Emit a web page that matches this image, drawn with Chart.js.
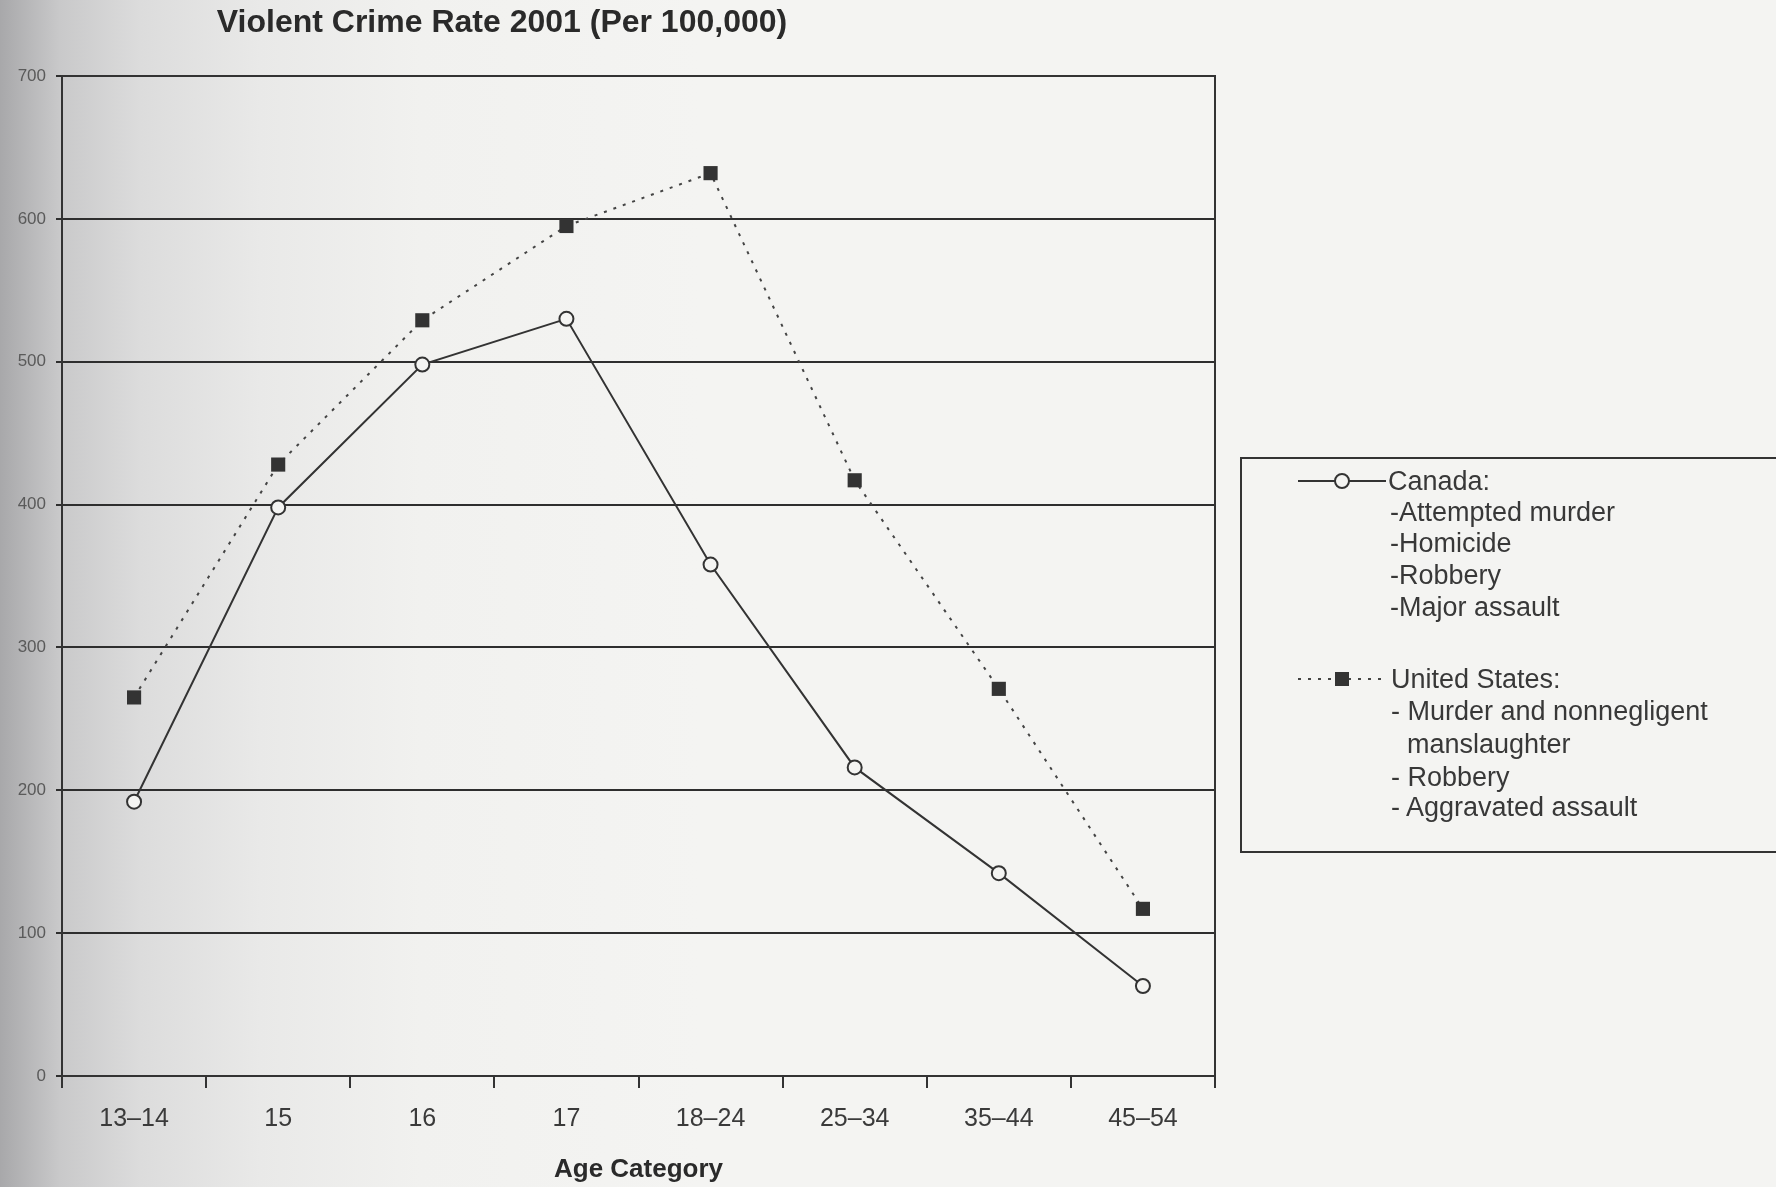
<!DOCTYPE html>
<html>
<head>
<meta charset="utf-8">
<script src="https://cdn.jsdelivr.net/npm/chart.js@4.4.1/dist/chart.umd.min.js"></script>
<style>
  html, body { margin: 0; padding: 0; }
  body {
    width: 1776px; height: 1187px; overflow: hidden; position: relative;
    background: linear-gradient(to right, #a8a8aa 0px, #c9c9ca 60px, #dcdcdc 140px, #e9e9e8 260px, #f1f1ef 420px, #f4f4f2 700px);
    font-family: "Liberation Sans", Arial, sans-serif;
  }
  #wrap { position: absolute; left: 0; top: 0; width: 1776px; height: 1187px; }
  #titre {
    position: absolute; left: 0; width: 1004px; top: 3px; text-align: center;
    font-family: "Liberation Sans", sans-serif;
    font-weight: bold; font-size: 32px; color: #2a2a2a;
  }
  #legende {
    position: absolute; left: 1240px; top: 457px; width: 600px; height: 396px;
    border: 2px solid #333; box-sizing: border-box;
    font-size: 27px; color: #383838; line-height: 32px;
  }
  .l { position: absolute; white-space: nowrap; }
  svg { position: absolute; }
</style>
</head>
<body>
<div id="wrap"><canvas id="grafico" width="1776" height="1187"></canvas></div>
<div id="titre">Violent Crime Rate 2001 (Per 100,000)</div>
<div id="legende">
  <svg style="left:56px;top:10px" width="90" height="24">
    <line x1="0" y1="12" x2="88" y2="12" stroke="#333" stroke-width="2"/>
    <circle cx="44" cy="12" r="7" fill="#f4f4f2" stroke="#333" stroke-width="2"/>
  </svg>
  <div class="l" style="left:146px;top:6px">Canada:</div>
  <div class="l" style="left:148px;top:37px">-Attempted murder</div>
  <div class="l" style="left:148px;top:68px">-Homicide</div>
  <div class="l" style="left:148px;top:100px">-Robbery</div>
  <div class="l" style="left:148px;top:132px">-Major assault</div>
  <svg style="left:56px;top:208px" width="90" height="24">
    <line x1="0" y1="12" x2="88" y2="12" stroke="#444" stroke-width="2" stroke-dasharray="3 7"/>
    <rect x="37" y="5" width="14" height="14" fill="#333"/>
  </svg>
  <div class="l" style="left:149px;top:204px">United States:</div>
  <div class="l" style="left:149px;top:236px">- Murder and nonnegligent</div>
  <div class="l" style="left:165px;top:269px">manslaughter</div>
  <div class="l" style="left:149px;top:302px">- Robbery</div>
  <div class="l" style="left:149px;top:332px">- Aggravated assault</div>
</div>
<script>
// tranches d'age et taux (pour 100 000)
const categories = ['13–14', '15', '16', '17', '18–24', '25–34', '35–44', '45–54']
const canada = [192, 398, 498, 530, 358, 216, 142, 63]
const etatsUnis = [265, 428, 529, 595, 632, 417, 271, 117]
const yTicks = [0, 100, 200, 300, 400, 500, 600, 700]

const police = '"Liberation Sans", Arial, sans-serif'

// cadre autour de la zone du graphique
const cadre = {
    id: 'cadre',
    afterDraw(chart) {
        const { ctx, chartArea: a } = chart
        ctx.save()
        ctx.strokeStyle = '#333'
        ctx.lineWidth = 2
        ctx.strokeRect(a.left, a.top, a.right - a.left, a.bottom - a.top)
        ctx.restore()
    }
}

const ctx = document.querySelector('#grafico')
const chart = new Chart(ctx, {
    type: 'line',
    data: {
        labels: categories,
        datasets: [
            {
                label: 'Canada',
                data: canada,
                borderColor: '#333',
                borderWidth: 2,
                pointStyle: 'circle',
                pointRadius: 7,
                pointBorderWidth: 2,
                pointBackgroundColor: '#f4f4f2',
                pointBorderColor: '#333',
                tension: 0
            },
            {
                label: 'United States',
                data: etatsUnis,
                borderColor: '#444',
                borderWidth: 2,
                borderDash: [3, 7],
                pointStyle: 'rect',
                pointRadius: 10,
                pointBorderWidth: 0,
                pointBackgroundColor: '#333',
                pointBorderColor: '#333',
                tension: 0
            }
        ]
    },
    options: {
        responsive: false,
        animation: false,
        devicePixelRatio: 1,
        layout: { padding: { top: 76, right: 561, left: 0, bottom: 0 } },
        plugins: {
            legend: { display: false },
            title: { display: false },
            tooltip: { enabled: false }
        },
        scales: {
            x: {
                offset: true,
                grid: { offset: true, drawOnChartArea: false, drawTicks: true, tickLength: 12, color: '#333', lineWidth: 2 },
                border: { color: '#333', width: 2 },
                ticks: { padding: 16, color: '#3a3a3a', font: { family: police, size: 25 } },
                title: { display: true, text: 'Age Category', color: '#2a2a2a', font: { family: police, size: 26, weight: 'bold' }, padding: { top: 0, bottom: 2 } },
                afterFit: (scale) => { scale.height = 111 }
            },
            y: {
                min: 0,
                max: 700,
                afterBuildTicks: (scale) => { scale.ticks = yTicks.map(v => ({ value: v })) },
                grid: { color: '#2e2e2e', lineWidth: 2, tickLength: 6 },
                border: { color: '#333', width: 2 },
                ticks: { padding: 10, color: '#5a5a5a', font: { family: police, size: 17 } },
                afterFit: (scale) => { scale.width = 62 }
            }
        }
    },
    plugins: [cadre]
})
</script>
</body>
</html>
